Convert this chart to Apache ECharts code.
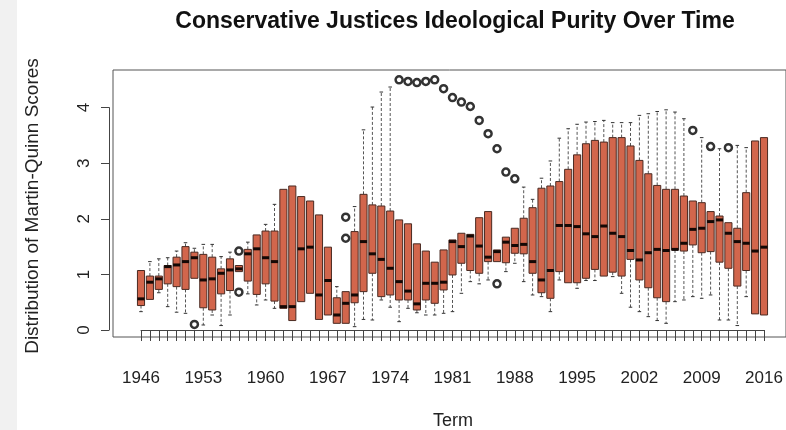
<!DOCTYPE html>
<html>
<head>
<meta charset="utf-8">
<script src="https://cdn.jsdelivr.net/npm/echarts@6/dist/echarts.min.js"></script>
<style>
  html, body { margin: 0; padding: 0; background: #ffffff; }
  #chart { width: 786px; height: 430px; }
</style>
</head>
<body>
<div id="chart"></div>
<script>
// Supreme Court terms on the x axis
const terms = [
  '1946','1947','1948','1949','1950','1951','1952','1953','1954','1955',
  '1956','1957','1958','1959','1960','1961','1962','1963','1964','1965',
  '1966','1967','1968','1969','1970','1971','1972','1973','1974','1975',
  '1976','1977','1978','1979','1980','1981','1982','1983','1984','1985',
  '1986','1987','1988','1989','1990','1991','1992','1993','1994','1995',
  '1996','1997','1998','1999','2000','2001','2002','2003','2004','2005',
  '2006','2007','2008','2009','2010','2011','2012','2013','2014','2015',
  '2016'
];

// Five-number summaries of the Martin-Quinn scores for each term
const whiskerLow = [
  0.33,0.55,0.67,0.42,0.32,0.30,0.93,0.09,0.27,0.08,
  0.27,1.05,0.65,0.45,0.54,0.39,0.39,0.17,0.51,0.66,
  0.19,0.27,0.12,0.12,0.06,0.19,0.18,0.54,0.41,0.15,
  0.39,0.31,0.27,0.27,0.30,0.33,0.66,0.87,0.83,0.90,
  1.23,1.05,1.20,0.87,0.63,0.60,0.33,0.90,0.85,0.75,
  0.89,0.89,0.97,0.96,0.66,0.41,0.33,0.24,0.17,0.12,
  0.51,0.54,0.60,0.57,0.63,0.18,0.18,0.08,0.60,0.29,
  0.27
];
const lowerQuartile = [
  0.44,0.55,0.73,0.83,0.78,0.73,0.93,0.40,0.36,0.65,
  0.71,1.05,0.88,0.64,0.83,0.52,0.39,0.17,0.51,0.66,
  0.19,0.27,0.12,0.12,0.49,0.69,1.02,0.60,0.63,0.54,
  0.54,0.36,0.54,0.48,0.72,0.99,1.20,1.07,1.02,1.23,
  1.23,1.21,1.38,1.37,1.02,0.67,0.57,1.05,0.85,0.85,
  0.93,1.09,0.97,1.04,0.97,1.27,0.90,0.76,0.58,0.51,
  1.44,1.42,1.53,1.39,1.41,1.22,1.11,0.79,1.07,0.29,
  0.27
];
const medianScore = [
  0.56,0.86,0.92,1.14,1.17,1.23,1.30,0.90,0.92,1.02,
  1.08,1.10,1.37,1.46,1.30,1.23,0.42,0.42,1.46,1.49,
  0.63,0.89,0.27,0.48,0.63,1.59,1.37,1.27,1.11,0.87,
  0.70,0.47,0.84,0.84,0.86,1.59,1.50,1.69,1.51,1.31,
  1.41,1.58,1.52,1.54,1.23,0.90,1.07,1.88,1.88,1.86,
  1.73,1.68,1.87,1.74,1.68,1.43,1.26,1.39,1.45,1.43,
  1.45,1.56,1.81,1.83,1.95,1.98,1.74,1.59,1.56,1.42,
  1.49
];
const upperQuartile = [
  1.07,0.97,0.97,1.16,1.31,1.50,1.40,1.36,1.31,1.10,
  1.28,1.16,1.45,1.71,1.78,1.78,2.53,2.59,2.40,2.32,
  2.07,1.49,0.58,0.69,1.77,2.44,2.25,2.23,2.14,1.98,
  1.91,1.55,1.42,1.22,1.44,1.62,1.74,1.72,2.02,2.13,
  1.44,1.67,1.83,2.01,2.20,2.55,2.59,2.67,2.89,3.15,
  3.35,3.41,3.38,3.46,3.46,3.31,3.05,2.81,2.60,2.53,
  2.53,2.41,2.32,2.29,2.13,2.05,1.93,1.83,2.47,3.40,
  3.46
];
const whiskerHigh = [
  1.07,1.23,1.28,1.30,1.42,1.57,1.47,1.54,1.54,1.32,
  1.40,1.16,1.58,1.71,1.90,2.26,2.53,2.59,2.40,2.32,
  2.07,1.49,0.78,0.69,2.22,3.60,4.01,4.28,4.37,1.98,
  1.91,1.55,1.42,1.22,1.44,1.62,1.74,1.72,2.02,2.13,
  1.44,1.67,1.83,2.57,2.35,2.73,3.04,3.45,3.62,3.70,
  3.74,3.75,3.77,3.73,3.73,3.73,3.86,3.89,3.93,3.96,
  3.92,3.80,2.32,3.46,2.13,3.26,1.93,3.32,3.28,3.40,
  3.46
];

// Outlying justices, drawn as open circles
const outlierTerms = [
  '1952','1957','1957','1969','1969','1975','1976','1977','1978','1979',
  '1980','1981','1982','1983','1984','1985','1986','1986','1987','1988',
  '2008','2010','2012'
];
const outlierScores = [
  0.10,1.42,0.68,2.03,1.65,4.50,4.47,4.45,4.47,4.50,
  4.34,4.18,4.10,4.02,3.77,3.53,3.26,0.83,2.84,2.72,
  3.59,3.30,3.28
];

const BOX_FILL = '#d2664c';
const BOX_EDGE = '#4a2a22';
const WHISKER = '#555555';

const boxData = terms.map((t, i) => [
  i, whiskerLow[i], lowerQuartile[i], medianScore[i], upperQuartile[i], whiskerHigh[i]
]);
const outlierData = outlierTerms.map((t, k) => [t, outlierScores[k]]);

function renderBox(params, api) {
  const i = api.value(0);
  const lo = api.coord([i, api.value(1)]);
  const q1 = api.coord([i, api.value(2)]);
  const md = api.coord([i, api.value(3)]);
  const q3 = api.coord([i, api.value(4)]);
  const hi = api.coord([i, api.value(5)]);
  const step = api.coord([1, 0])[0] - api.coord([0, 0])[0];
  const bw = step * 0.8;
  const sw = bw * 0.5;
  const x = q1[0];
  const children = [];
  const dashed = { stroke: WHISKER, lineWidth: 1, lineDash: [3, 2] };
  const staple = { stroke: '#333', lineWidth: 1 };
  if (hi[1] < q3[1] - 0.5) {
    children.push({ type: 'line', shape: { x1: x, y1: q3[1], x2: x, y2: hi[1] }, style: dashed });
    children.push({ type: 'line', shape: { x1: x - sw / 2, y1: hi[1], x2: x + sw / 2, y2: hi[1] }, style: staple });
  }
  if (lo[1] > q1[1] + 0.5) {
    children.push({ type: 'line', shape: { x1: x, y1: q1[1], x2: x, y2: lo[1] }, style: dashed });
    children.push({ type: 'line', shape: { x1: x - sw / 2, y1: lo[1], x2: x + sw / 2, y2: lo[1] }, style: staple });
  }
  children.push({
    type: 'rect',
    shape: { x: x - bw / 2, y: q3[1], width: bw, height: Math.max(q1[1] - q3[1], 1) },
    style: { fill: BOX_FILL, stroke: BOX_EDGE, lineWidth: 1 }
  });
  children.push({
    type: 'line',
    shape: { x1: x - bw / 2, y1: md[1], x2: x + bw / 2, y2: md[1] },
    style: { stroke: '#140805', lineWidth: 3 }
  });
  return { type: 'group', children };
}

const chart = echarts.init(document.getElementById('chart'), null, { renderer: 'canvas' });
const FONT = 'Liberation Sans, Arial, Helvetica, sans-serif';

chart.setOption({
  animation: false,
  backgroundColor: '#ffffff',
  graphic: [
    {
      type: 'rect', left: 0, top: 0, z: -10,
      shape: { width: 17, height: 430 },
      style: { fill: '#f1f1f1' }
    },
    {
      type: 'text', x: 455, y: 22,
      style: {
        text: 'Conservative Justices Ideological Purity Over Time',
        font: 'bold 23px ' + FONT, fill: '#111',
        textAlign: 'center', textVerticalAlign: 'middle'
      }
    },
    {
      type: 'text', x: 453, y: 421,
      style: {
        text: 'Term', font: '18px ' + FONT, fill: '#222',
        textAlign: 'center', textVerticalAlign: 'middle'
      }
    },
    {
      type: 'text', x: 33, y: 206, rotation: Math.PI / 2,
      style: {
        text: 'Distribution of Martin-Quinn Scores', font: '19px ' + FONT, fill: '#222',
        textAlign: 'center', textVerticalAlign: 'middle'
      }
    }
  ],
  grid: [
    // plot frame
    { left: 113, top: 70, width: 676, height: 267, show: true,
      borderColor: '#555', borderWidth: 1, backgroundColor: 'transparent' },
    // data region: term 1946..2016, score 0..4
    { left: 141, top: 107.6, width: 623, height: 222.4 }
  ],
  xAxis: [
    {
      gridIndex: 0, type: 'value', min: 0, max: 1, show: false
    },
    {
      gridIndex: 1, type: 'category', data: terms, boundaryGap: false,
      offset: 10,
      axisLine: { show: true, lineStyle: { color: '#444', width: 1 } },
      axisTick: { show: true, interval: 0, length: 11, lineStyle: { color: '#444' } },
      axisLabel: { interval: 6, margin: 30, fontFamily: FONT, fontSize: 17, color: '#222' },
      splitLine: { show: false }
    }
  ],
  yAxis: [
    {
      gridIndex: 0, type: 'value', min: 0, max: 1, show: false
    },
    {
      gridIndex: 1, type: 'value', min: 0, max: 4, interval: 1,
      offset: 32,
      axisLine: { show: true, lineStyle: { color: '#444', width: 1 } },
      axisTick: { show: true, length: 8, lineStyle: { color: '#444' } },
      axisLabel: { rotate: 90, margin: 16, fontFamily: FONT, fontSize: 17, color: '#222' },
      splitLine: { show: false }
    }
  ],
  series: [
    {
      type: 'custom',
      xAxisIndex: 1, yAxisIndex: 1,
      clip: false,
      renderItem: renderBox,
      encode: { x: 0, y: [1, 2, 3, 4, 5] },
      data: boxData
    },
    {
      type: 'scatter',
      xAxisIndex: 1, yAxisIndex: 1,
      clip: false,
      symbol: 'circle', symbolSize: 7,
      itemStyle: { color: '#ffffff', borderColor: '#000000', borderWidth: 2.5 },
      data: outlierData,
      z: 5
    }
  ]
});
</script>
</body>
</html>
